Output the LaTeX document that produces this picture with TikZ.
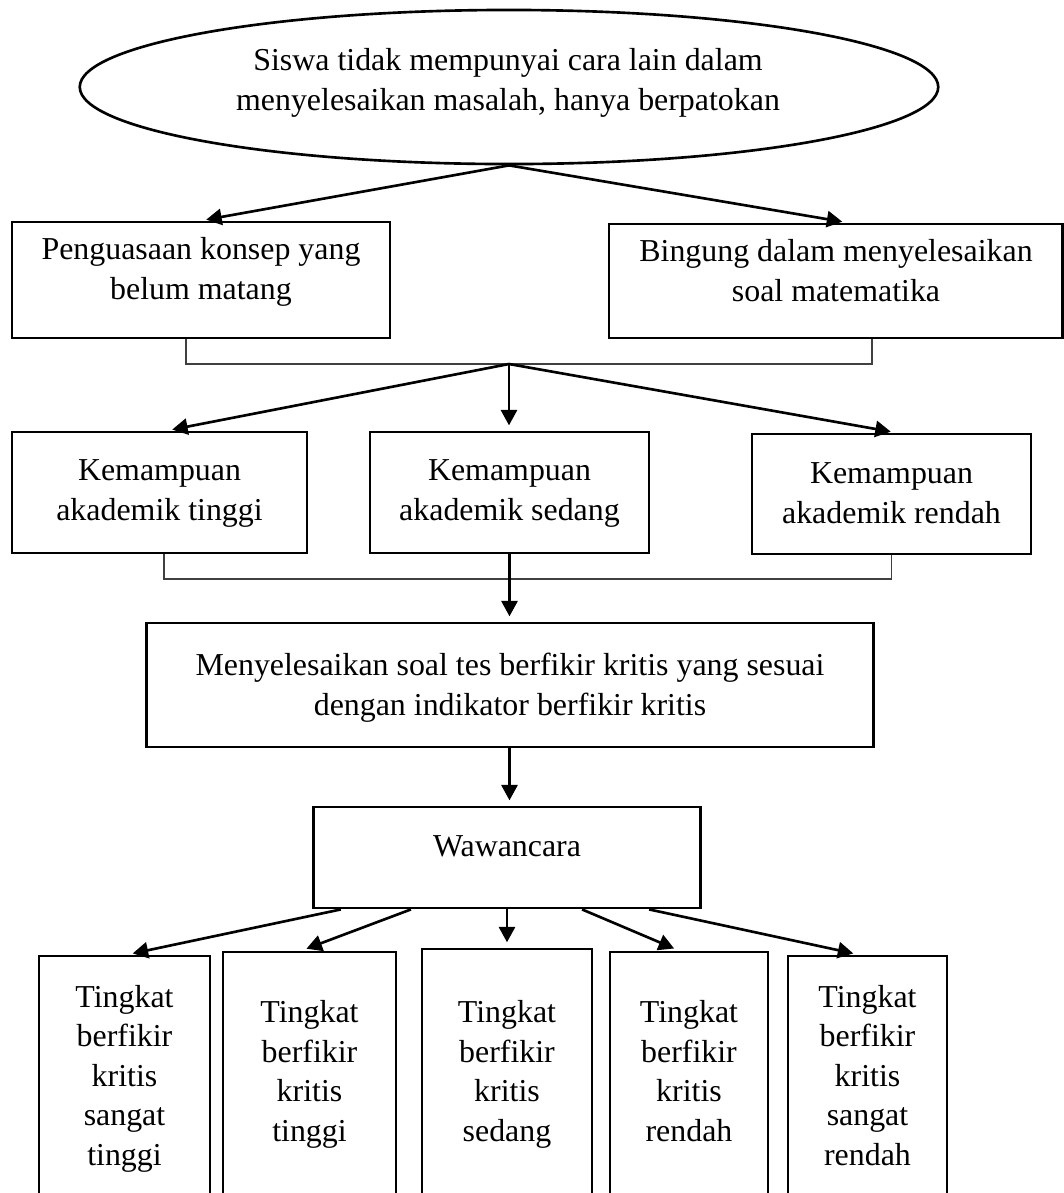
\documentclass[tikz,border=0pt]{standalone}
\usepackage{fontspec}
\setmainfont{Liberation Serif}
\usetikzlibrary{shapes.geometric,arrows.meta,positioning}

\begin{document}
\begin{tikzpicture}[
        x=0.01cm, y=-0.01cm,
        box/.style={draw, line width=0.78pt, inner sep=0pt},
        oval/.style={ellipse, draw, line width=0.75pt, inner sep=0pt},
        txt/.style={align=center, anchor=base, inner sep=0pt, font=\fontsize{9.07}{11.2}\selectfont},
        link/.style={draw, line width=0.75pt, -{Triangle[length=4.4pt, width=4.6pt]}, shorten >=1.5pt},
        joint/.style={draw, line width=0.4pt, black!75}
    ]
	\useasboundingbox (0,0) rectangle (1064,1193);
	\clip (0,0) rectangle (1064,1193);

	\node[oval, minimum width=8.58cm, minimum height=1.54cm] (sebab) at (509,87) {};
	\node[box, minimum width=3.78cm, minimum height=1.16cm] (konsep) at (201,280) {};
	\node[box, minimum width=4.53cm, minimum height=1.14cm] (bingung) at (835.5,281) {};
	\node[box, minimum width=2.95cm, minimum height=1.21cm] (k_1) at (159.5,492.5) {};
	\node[box, minimum width=2.79cm, minimum height=1.21cm] (k_2) at (509.5,492.5) {};
	\node[box, minimum width=2.79cm, minimum height=1.20cm] (k_3) at (891.5,494) {};
	\node[box, minimum width=7.26cm, minimum height=1.24cm] (soal) at (510,685) {};
	\node[box, minimum width=3.87cm, minimum height=1.01cm] (wawancara) at (507,857.5) {};
	\node[box, minimum width=1.71cm, minimum height=2.74cm] (t_1) at (124.5,1093) {};
	\node[box, minimum width=1.73cm, minimum height=2.78cm] (t_2) at (309.5,1091) {};
	\node[box, minimum width=1.70cm, minimum height=2.81cm] (t_3) at (507,1089.5) {};
	\node[box, minimum width=1.58cm, minimum height=2.78cm] (t_4) at (689,1091) {};
	\node[box, minimum width=1.59cm, minimum height=2.74cm] (t_5) at (867.5,1093) {};

	% base anchor sits on the last line
	\node[txt] (sebab_l) at (508,110) {Siswa tidak mempunyai cara lain dalam\\menyelesaikan masalah, hanya berpatokan};
	\node[txt] (konsep_l) at (201,299) {Penguasaan konsep yang\\belum matang};
	\node[txt] (bingung_l) at (836,301) {Bingung dalam menyelesaikan\\soal matematika};
	\node[txt] (k_1_l) at (159.5,520) {Kemampuan\\akademik tinggi};
	\node[txt] (k_2_l) at (509.5,520) {Kemampuan\\akademik sedang};
	\node[txt] (k_3_l) at (891.5,523) {Kemampuan\\akademik rendah};
	\node[txt] (soal_l) at (510,715) {Menyelesaikan soal tes berfikir kritis yang sesuai\\dengan indikator berfikir kritis};
	\node[txt] (wawancara_l) at (507,856) {Wawancara};
	\node[txt] (t_1_l) at (124.5,1165) {Tingkat\\berfikir\\kritis\\sangat\\tinggi};
	\node[txt] (t_2_l) at (309.5,1141) {Tingkat\\berfikir\\kritis\\tinggi};
	\node[txt] (t_3_l) at (507,1141) {Tingkat\\berfikir\\kritis\\sedang};
	\node[txt] (t_4_l) at (689,1141) {Tingkat\\berfikir\\kritis\\rendah};
	\node[txt] (t_5_l) at (867.5,1165) {Tingkat\\berfikir\\kritis\\sangat\\rendah};

	\coordinate (j_1) at (509,364);
	\coordinate (j_2) at (509,579);

	\draw[link] (sebab.south) -- (konsep.north);
	\draw[link] (sebab.south) -- ([xshift=0.12cm]bingung.north);
	\draw[joint] ([xshift=-0.15cm]konsep.south) |- (j_1) -| ([xshift=0.365cm]bingung.south);
	\draw[link] (j_1) -- ([xshift=0.075cm]k_1.north);
	\draw[link] (j_1) -- (j_1 |- k_2.north);
	\draw[link] (j_1) -- ([xshift=0.045cm]k_3.north);
	\draw[joint] ([xshift=0.045cm]k_1.south) |- (j_2) -| (k_3.south);
	\draw[link] (k_2.south) -- (k_2.south |- soal.north);
	\draw[link] (soal.south -| k_2.south) -- (k_2.south |- wawancara.north);
	\draw[link] ([xshift=-1.66cm]wawancara.south) -- ([xshift=0.03cm]t_1.north);
	\draw[link] ([xshift=-0.96cm]wawancara.south) -- ([xshift=-0.08cm]t_2.north);
	\draw[link] (wawancara.south) -- (t_3.north);
	\draw[link] ([xshift=0.75cm]wawancara.south) -- ([xshift=-0.1cm]t_4.north);
	\draw[link] ([xshift=1.42cm]wawancara.south) -- ([xshift=-0.09cm]t_5.north);

\end{tikzpicture}
\end{document}
